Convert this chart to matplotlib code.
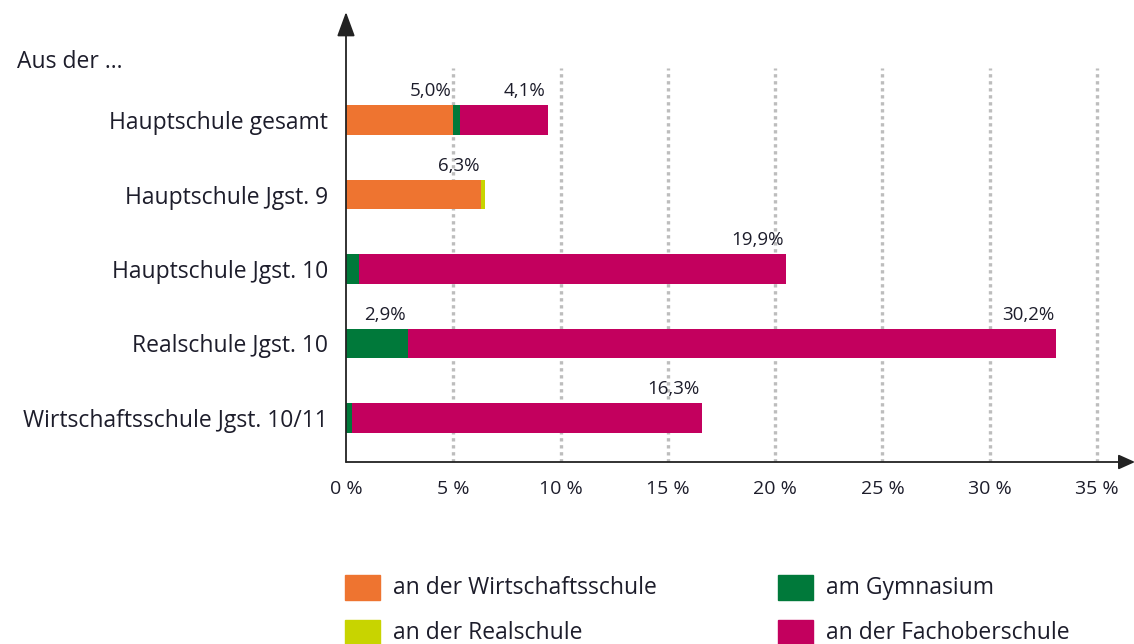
import numpy as np
import matplotlib.pyplot as plt
from matplotlib.patches import Rectangle

plt.rcParams['font.family'] = ['Open Sans', 'DejaVu Sans']

# Daten
kategorien = ["Hauptschule gesamt", "Hauptschule Jgst. 9", "Hauptschule Jgst. 10",
              "Realschule Jgst. 10", "Wirtschaftsschule Jgst. 10/11"]
wirtschaftsschule = [5.0, 6.3, 0.0, 0.0, 0.0]
realschule = [0.0, 0.2, 0.0, 0.0, 0.0]
gymnasium = [0.3, 0.0, 0.6, 2.9, 0.3]
fachoberschule = [4.1, 0.0, 19.9, 30.2, 16.3]
x_ticks = [0, 5, 10, 15, 20, 25, 30, 35]

# Beschriftungen: (Kategorie, Wert, Serie)
beschriftungen = [(0, 5.0, "w"), (0, 4.1, "f"), (1, 6.3, "w"),
                  (2, 19.9, "f"), (3, 2.9, "g"), (3, 30.2, "f"), (4, 16.3, "f")]

legende = [("w", "an der Wirtschaftsschule"), ("r", "an der Realschule"),
           ("g", "am Gymnasium"), ("f", "an der Fachoberschule")]

farben = {"w": "#EE7430", "r": "#C8D400", "g": "#00793A", "f": "#C3005E"}
textfarbe = "#1d1d2b"

W, H = 1134, 644
fig = plt.figure(figsize=(W / 100, H / 100), dpi=100)
ax = fig.add_axes([346 / W, 182 / H, (1135 - 346) / W, (462 - 12) / H])

y = np.arange(len(kategorien))
h = 0.39
serien = [("w", wirtschaftsschule), ("r", realschule), ("g", gymnasium), ("f", fachoberschule)]
links = np.zeros(len(kategorien))
starts = {}
for key, werte in serien:
    werte = np.array(werte)
    starts[key] = links.copy()
    ax.barh(y, werte, left=links, height=h, color=farben[key], zorder=3,
            edgecolor='none')
    links = links + werte

spalte = dict(serien)
for i, wert, key in beschriftungen:
    ende = starts[key][i] + spalte[key][i]
    ax.text(ende - 0.1, i - h / 2 - 0.07, f"{wert:.1f}".replace(".", ",") + "%",
            ha='right', va='bottom', fontsize=13.5, color=textfarbe, zorder=4)

x_per_unit = (1097 - 346) / 35
ax.set_xlim(0, (1135 - 346) / x_per_unit)
ax.set_ylim((462 - 120) / 74.5, (12 - 120) / 74.5)

# Gitterlinien
for t in x_ticks[1:]:
    ax.plot([t, t], [(462 - 120) / 74.5, -0.7], color="#BDBDBD", lw=2.4,
            linestyle=(0, (1, 1.1)), zorder=1)

for s in ax.spines.values():
    s.set_visible(False)
ax.annotate("", xy=(1, 0), xytext=(0, 0), xycoords='axes fraction',
            arrowprops=dict(arrowstyle='-|>,head_length=1.0,head_width=0.45',
                            color='#222222', lw=1.3, shrinkA=0, shrinkB=0))
ax.annotate("", xy=(0, 1), xytext=(0, 0), xycoords='axes fraction',
            arrowprops=dict(arrowstyle='-|>,head_length=1.5,head_width=0.55',
                            color='#222222', lw=1.3, shrinkA=0, shrinkB=0))

ax.set_xticks(x_ticks)
ax.set_xticklabels([f"{t} %" for t in x_ticks])
ax.set_yticks(y)
ax.set_yticklabels(kategorien)
ax.tick_params(axis='x', length=0, labelsize=14, colors=textfarbe, pad=13)
ax.tick_params(axis='y', length=0, labelsize=16.5, colors=textfarbe, pad=13)

fig.text(17 / W, 1 - 62 / H, "Aus der …", fontsize=16.5, color=textfarbe,
         ha='left', va='center')

# Legende, zwei Spalten
pos = [(345, 575), (345, 620), (778, 575), (778, 620)]
for (key, text), (px, py) in zip(legende, pos):
    fig.add_artist(Rectangle((px / W, 1 - (py + 25) / H), 35 / W, 25 / H,
                             transform=fig.transFigure, color=farben[key]))
    fig.text((px + 48) / W, 1 - (py + 13) / H, text, fontsize=16.5,
             color=textfarbe, ha='left', va='center')

fig.savefig("out.png", dpi=100)
